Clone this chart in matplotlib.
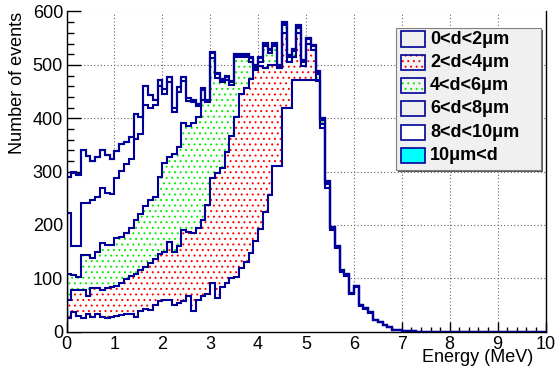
import numpy as np
import matplotlib
matplotlib.use("Agg")
import matplotlib.pyplot as plt
from matplotlib.patches import Rectangle

# Energy binning: 100 bins of 0.1 MeV from 0 to 10 MeV
edges = np.linspace(0.0, 10.0, 101)

# Stacked event counts per bin (cumulative over depth classes), 0.0 MeV upward.
# Bins not listed are empty.
upto_2um = [25, 36, 29, 25, 33, 28, 33, 28, 25, 28,
            29, 31, 33, 33, 28, 38, 42, 41, 50, 58,
            59, 59, 50, 53, 58, 66, 39, 59, 66, 70,
            91, 63, 83, 91, 100, 103, 119, 131, 147, 170,
            192, 225, 257, 310, 310, 419, 419, 472, 472, 472,
            472, 472, 472, 382, 270, 190, 156, 112, 105, 70,
            84, 49, 43, 35, 21, 18, 12, 8, 4, 4,
            2, 1, 1]
upto_4um = [59, 78, 79, 78, 66, 81, 81, 78, 81, 83,
            86, 91, 98, 104, 109, 116, 121, 128, 136, 146,
            150, 169, 150, 160, 190, 186, 185, 194, 210, 238,
            288, 298, 307, 337, 366, 402, 446, 457, 474, 490,
            497, 495, 500, 500, 494, 560, 505, 515, 560, 498,
            540, 528, 470, 390, 276, 194, 159, 114, 107, 71,
            85, 50, 44, 36, 22, 19, 13, 8, 4, 4,
            2, 1, 1]
upto_6um = [109, 106, 103, 144, 144, 138, 150, 167, 163, 163,
            175, 178, 185, 194, 210, 220, 235, 247, 252, 290,
            316, 328, 333, 347, 391, 386, 391, 403, 435, 433,
            513, 475, 468, 472, 462, 515, 515, 515, 505, 494,
            505, 535, 522, 535, 497, 574, 515, 526, 570, 506,
            548, 535, 482, 396, 279, 196, 161, 116, 108, 72,
            86, 50, 44, 36, 22, 19, 13, 8, 4, 4,
            2, 1, 1]
upto_8um = [222, 160, 160, 241, 241, 247, 253, 269, 260, 258,
            288, 302, 315, 324, 361, 371, 424, 419, 425, 460,
            445, 468, 412, 450, 470, 432, 430, 422, 452, 430,
            522, 482, 472, 478, 468, 519, 519, 519, 513, 498,
            513, 539, 528, 539, 499, 579, 518, 529, 573, 509,
            550, 537, 487, 400, 282, 196, 161, 116, 108, 72,
            86, 50, 44, 36, 22, 19, 13, 8, 4, 4,
            2, 1, 1]
upto_10um = [290, 297, 293, 340, 330, 320, 328, 341, 332, 323,
             338, 352, 355, 365, 407, 402, 460, 444, 435, 471,
             455, 477, 419, 459, 477, 438, 435, 427, 457, 435,
             524, 484, 474, 480, 470, 521, 521, 521, 515, 500,
             515, 541, 530, 541, 500, 580, 519, 530, 574, 510,
             551, 538, 488, 400, 282, 196, 161, 116, 108, 72,
             86, 50, 44, 36, 22, 19, 13, 8, 4, 4,
             2, 1, 1]
total = [290, 300, 296, 340, 330, 320, 328, 341, 332, 323,
         338, 352, 355, 365, 407, 402, 460, 444, 435, 471,
         455, 477, 419, 459, 477, 438, 435, 427, 457, 435,
         524, 484, 474, 480, 470, 521, 521, 521, 515, 500,
         515, 541, 530, 541, 500, 580, 519, 530, 574, 510,
         551, 538, 488, 400, 282, 196, 161, 116, 108, 72,
         86, 50, 44, 36, 22, 19, 13, 8, 4, 4,
         2, 1, 1]

labels = ["0<d<2\u03bcm", "2<d<4\u03bcm", "4<d<6\u03bcm",
          "6<d<8\u03bcm", "8<d<10\u03bcm", "10\u03bcm<d"]


def full(v):
    v = np.asarray(v, dtype=float)
    return np.pad(v, (0, len(edges) - 1 - len(v)))


c1, c2, c3, c4, c5, c6 = (full(v) for v in
                          (upto_2um, upto_4um, upto_6um, upto_8um, upto_10um, total))

plt.rcParams['font.family'] = ['Liberation Sans', 'DejaVu Sans']
plt.rcParams['hatch.linewidth'] = 0.7

W, H = 559, 374
fig = plt.figure(figsize=(W / 100, H / 100), dpi=100)
fig.patch.set_facecolor('white')

x0, x1, y0, y1 = 66.5, 545.5, 11.5, 331.7
ax = fig.add_axes([x0 / W, 1 - y1 / H, (x1 - x0) / W, (y1 - y0) / H])
ax.set_xlim(0, 10)
ax.set_ylim(0, 600)

navy = '#000099'
dots = '...'

# fills, drawn from the total downward
ax.stairs(c6, edges, baseline=c5, fill=True, color='#00ffff', lw=0, zorder=1)
ax.stairs(c5, edges, baseline=0, fill=True, color='white', lw=0, zorder=1.1)
ax.stairs(c3, edges, baseline=c2, fill=True, facecolor='white',
          edgecolor='#00ee00', hatch=dots, lw=0, zorder=1.2)
ax.stairs(c2, edges, baseline=c1, fill=True, facecolor='white',
          edgecolor='#ff0000', hatch=dots, lw=0, zorder=1.3)

# outlines of each stacked level
for c in (c6, c5, c4, c3, c2, c1):
    ax.stairs(c, edges, baseline=0, fill=False, color=navy, lw=1.5, zorder=3)

# axes and ticks
ax.set_axisbelow(True)
ax.set_xticks(np.arange(0, 11, 1))
ax.set_xticks(np.arange(0, 10.01, 0.2), minor=True)
ax.set_yticks(np.arange(0, 601, 100))
ax.set_yticks(np.arange(0, 601, 20), minor=True)
ax.set_xticklabels([str(i) for i in range(11)])
ax.set_yticklabels([str(v) for v in range(0, 601, 100)])
ax.tick_params(axis='y', which='major', direction='in', length=10.4, width=1,
               labelsize=13, pad=2.5)
ax.tick_params(axis='y', which='minor', direction='in', length=5.2, width=1)
ax.tick_params(axis='x', which='major', direction='in', length=6.9, width=1,
               labelsize=13, pad=3.0)
ax.tick_params(axis='x', which='minor', direction='in', length=3.5, width=1)
for t in ax.xaxis.get_major_ticks() + ax.xaxis.get_minor_ticks() + \
        ax.yaxis.get_major_ticks() + ax.yaxis.get_minor_ticks():
    t.tick1line.set_zorder(4)

ax.grid(True, which='major', color='#666666', linestyle=(0, (1, 2)), lw=0.8)
ax.spines['top'].set_visible(False)
for s in ('left', 'bottom', 'right'):
    ax.spines[s].set_linewidth(1.0)
    ax.spines[s].set_zorder(5)

fig.text(18 / W, 1 - 12 / H, "Number of events", rotation=90,
         ha='center', va='top', fontsize=13)
fig.text(533 / W, 1 - 362 / H, "Energy (MeV)", ha='right', va='baseline',
         fontsize=13)

# legend panel
lx0, ly0, lx1, ly1 = 396, 28, 541, 170


def fx(px):
    return px / W


def fy(py):
    return 1 - py / H


fig.add_artist(Rectangle((fx(lx0 + 2), fy(ly1 + 2)), fx(lx1 - lx0), (ly1 - ly0) / H,
                         facecolor='#555555', edgecolor='none', zorder=10))
fig.add_artist(Rectangle((fx(lx0), fy(ly1)), fx(lx1 - lx0), (ly1 - ly0) / H,
                         facecolor='#f0f0f0', edgecolor='#808080', lw=0.8, zorder=11))

box_styles = [
    dict(facecolor='#f0f0f0'),
    dict(facecolor='#f4f4f4', hatch=dots, hcolor='#ff0000'),
    dict(facecolor='#f4f4f4', hatch=dots, hcolor='#00ee00'),
    dict(facecolor='#f0f0f0'),
    dict(facecolor='white'),
    dict(facecolor='#00ffff'),
]
row_y = [39.0, 62.3, 85.6, 108.9, 132.2, 155.5]
bx0, bw, bh = 401, 24, 15
for lab, yc, st in zip(labels, row_y, box_styles):
    if 'hatch' in st:
        fig.add_artist(Rectangle((fx(bx0), fy(yc + bh / 2)), fx(bw), bh / H,
                                 facecolor=st['facecolor'], edgecolor=st['hcolor'],
                                 hatch=st['hatch'], lw=0, zorder=12))
        fig.add_artist(Rectangle((fx(bx0), fy(yc + bh / 2)), fx(bw), bh / H,
                                 facecolor='none', edgecolor=navy, lw=1.2, zorder=13))
    else:
        fig.add_artist(Rectangle((fx(bx0), fy(yc + bh / 2)), fx(bw), bh / H,
                                 facecolor=st['facecolor'], edgecolor=navy, lw=1.2,
                                 zorder=12))
    fig.text(fx(430), fy(yc), lab, ha='left', va='center', fontsize=13,
             fontweight='bold', zorder=14)

fig.savefig('out.png', dpi=100)
